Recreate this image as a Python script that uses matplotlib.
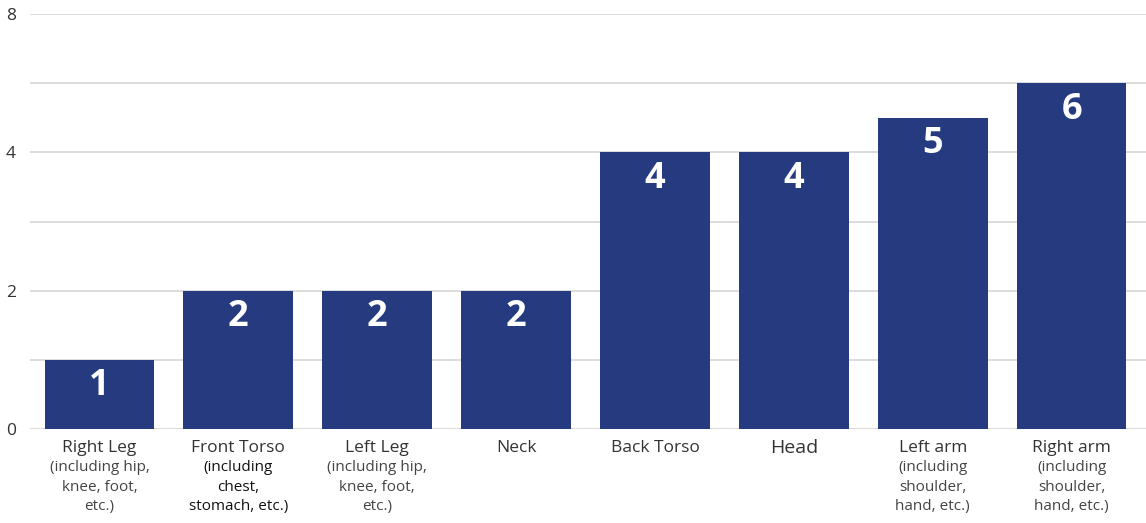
import matplotlib.pyplot as plt
import numpy as np
from matplotlib.transforms import blended_transform_factory

# Body part counts
parts = ["Right Leg", "Front Torso", "Left Leg", "Neck", "Back Torso", "Head", "Left arm", "Right arm"]
details = ["(including hip,\nknee, foot,\netc.)", "(including\nchest,\nstomach, etc.)", "(including hip,\nknee, foot,\netc.)",
           "", "", "", "(including\nshoulder,\nhand, etc.)", "(including\nshoulder,\nhand, etc.)"]
counts = [1, 2, 2, 2, 4, 4, 5, 6]
grid_values = [0, 1, 2, 3, 4, 6, 8]
tick_values = [0, 2, 4, 8]

bar_color = "#263a80"
text_color = "#333333"
plt.rcParams["font.family"] = ["Open Sans", "DejaVu Sans"]


# axis is linear up to 4, then compressed by half above it
def fwd(v):
    v = np.asarray(v, dtype=float)
    return np.where(v <= 4, v, 4 + (v - 4) / 2)


def inv(u):
    u = np.asarray(u, dtype=float)
    return np.where(u <= 4, u, 4 + (u - 4) * 2)


fig = plt.figure(figsize=(11.46, 5.23), dpi=100)
ax = fig.add_axes([30 / 1146, 1 - 429 / 523, 1116 / 1146, 415 / 523])
ax.set_yscale("function", functions=(fwd, inv))
ax.set_ylim(0, 8)
ax.set_xlim(-0.5, 7.536)

x = np.arange(len(parts))
ax.bar(x, counts, width=0.79, color=bar_color, zorder=3)

for v in grid_values:
    ax.axhline(v, color="#d6d6d6", lw=1.2, zorder=1)

for xi, c in zip(x, counts):
    ax.annotate(str(c), (xi, c), xytext=(0, -6), textcoords="offset points",
                ha="center", va="top", color="white", fontsize=26, fontweight="bold", zorder=4)

ax.set_yticks(tick_values)
ax.set_yticklabels([str(t) for t in tick_values])
ax.tick_params(axis="y", length=0, pad=10, labelsize=12.5, labelcolor=text_color)
ax.set_xticks([])
for s in ax.spines.values():
    s.set_visible(False)

trans = blended_transform_factory(ax.transData, fig.transFigure)
for i, (p, d) in enumerate(zip(parts, details)):
    size = 14 if p == "Head" else 12.5
    ax.text(i, 1 - 448 / 523, p, transform=trans, ha="center", va="center",
            fontsize=size, color=text_color)
    if d:
        col = "#111111" if p == "Front Torso" else "#444444"
        ax.text(i, 1 - 460 / 523, d, transform=trans, ha="center", va="top",
                fontsize=11, color=col, linespacing=1.42)

fig.savefig("out.png", dpi=100)
